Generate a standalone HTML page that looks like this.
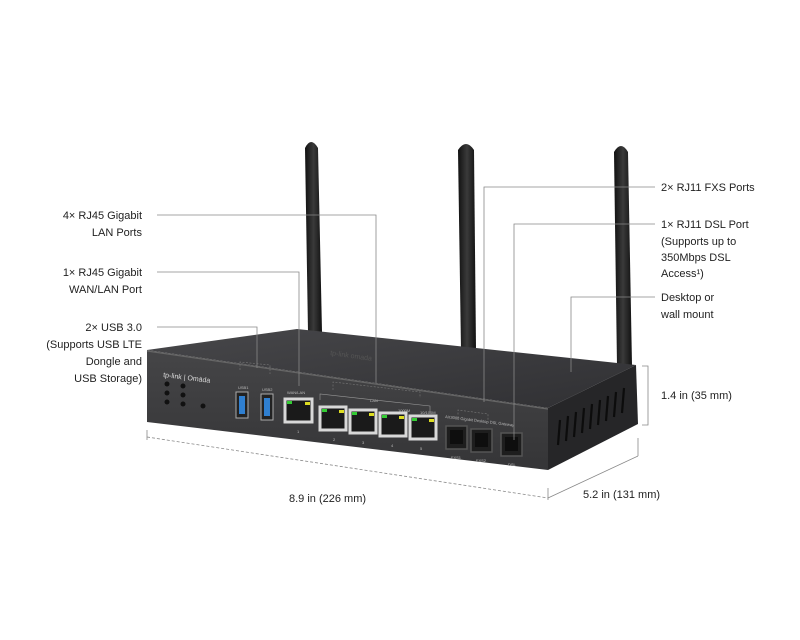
<!DOCTYPE html>
<html><head><meta charset="utf-8"><style>
html,body{margin:0;padding:0;background:#fff}
svg{display:block}
text{font-family:"Liberation Sans",sans-serif;font-size:11px;fill:#222}
.s{font-size:4px;fill:#bbb}
</style></head><body>
<svg width="800" height="640" viewBox="0 0 800 640">
<defs>
<linearGradient id="top" x1="0" y1="0" x2="1" y2="1"><stop offset="0" stop-color="#47474a"/><stop offset="1" stop-color="#303033"/></linearGradient>
<linearGradient id="front" x1="0" y1="0" x2="0" y2="1"><stop offset="0" stop-color="#454547"/><stop offset="1" stop-color="#353537"/></linearGradient>
<linearGradient id="ant" x1="0" y1="0" x2="1" y2="0"><stop offset="0" stop-color="#111"/><stop offset="0.5" stop-color="#3a3a3a"/><stop offset="1" stop-color="#111"/></linearGradient>
</defs>
<!-- antennas -->
<path d="M305 148 Q311 136 318 148 L322 332 L308 332 Z" fill="url(#ant)"/>
<path d="M458 150 Q466 138 474 150 L476 350 L461 350 Z" fill="url(#ant)"/>
<path d="M614 152 Q621 140 628 152 L632 366 L617 366 Z" fill="url(#ant)"/>
<!-- body -->
<polygon points="147,350 297,329 636,365 548,408" fill="url(#top)"/>
<polygon points="147,350 548,408 548,470 147,422" fill="url(#front)"/>
<line x1="147" y1="351" x2="548" y2="409" stroke="#666" stroke-width="1.2"/>
<polygon points="548,408 636,365 638,424 548,470" fill="#262628"/>
<g stroke="#0c0c0c" stroke-width="2.2">
<line x1="560" y1="420" x2="558" y2="445"/><line x1="568" y1="416" x2="566" y2="441"/><line x1="576" y1="412" x2="574" y2="437"/><line x1="584" y1="408" x2="582" y2="433"/><line x1="592" y1="404" x2="590" y2="429"/><line x1="600" y1="400" x2="598" y2="425"/><line x1="608" y1="396" x2="606" y2="421"/><line x1="616" y1="392" x2="614" y2="417"/><line x1="624" y1="388" x2="622" y2="413"/>
</g>
<text x="330" y="355" style="font-size:7px;fill:#555" transform="rotate(8 330 355)">tp-link omada</text>
<text x="163" y="377" style="font-size:7px;fill:#ddd" transform="rotate(7 163 377)">tp-link | Omāda</text>
<g fill="#111"><circle cx="167" cy="384" r="2.5"/><circle cx="167" cy="393" r="2.5"/><circle cx="167" cy="402" r="2.5"/><circle cx="183" cy="386" r="2.5"/><circle cx="183" cy="395" r="2.5"/><circle cx="183" cy="404" r="2.5"/><circle cx="203" cy="406" r="2.5"/></g>
<!-- USB -->
<rect x="236" y="392" width="12" height="26" fill="#222" stroke="#aaa"/><rect x="239" y="396" width="6" height="18" fill="#2f7fd0"/>
<rect x="261" y="394" width="12" height="26" fill="#222" stroke="#aaa"/><rect x="264" y="398" width="6" height="18" fill="#2f7fd0"/>
<text x="238" y="389" class="s">USB1</text><text x="262" y="391" class="s">USB2</text>
<text x="287" y="394" class="s">WAN/LAN</text><text x="370" y="402" class="s">LAN</text>
<text x="398" y="412" class="s">1000M</text><text x="420" y="414" class="s">10/100M</text>
<!-- RJ45 -->
<g fill="#1a1a1a" stroke="#d8d8d8" stroke-width="3">
<rect x="285" y="399" width="27" height="23"/><rect x="320" y="407" width="26" height="23"/><rect x="350" y="410" width="26" height="23"/><rect x="380" y="413" width="26" height="23"/><rect x="410" y="416" width="26" height="23"/>
</g>
<g fill="#3c3"><rect x="287" y="401" width="5" height="3"/><rect x="322" y="409" width="5" height="3"/><rect x="352" y="412" width="5" height="3"/><rect x="382" y="415" width="5" height="3"/><rect x="412" y="418" width="5" height="3"/></g>
<g fill="#dd2"><rect x="305" y="402" width="5" height="3"/><rect x="339" y="410" width="5" height="3"/><rect x="369" y="413" width="5" height="3"/><rect x="399" y="416" width="5" height="3"/><rect x="429" y="419" width="5" height="3"/></g>
<g class="s"><text x="297" y="433" class="s">1</text><text x="333" y="441" class="s">2</text><text x="362" y="444" class="s">3</text><text x="391" y="447" class="s">4</text><text x="420" y="450" class="s">5</text></g>
<g fill="#1e1e1e" stroke="#555" stroke-width="1.5">
<rect x="446" y="426" width="21" height="23"/><rect x="471" y="429" width="21" height="23"/><rect x="501" y="433" width="21" height="23"/>
</g>
<g fill="#0e0e0e"><rect x="450" y="430" width="13" height="14"/><rect x="475" y="433" width="13" height="14"/><rect x="505" y="437" width="13" height="14"/></g>
<text x="451" y="459" class="s">FXS1</text><text x="476" y="462" class="s">FXS2</text><text x="508" y="466" class="s">DSL</text>
<text x="445" y="418" class="s" transform="rotate(7 445 418)">AX3000 Gigabit Desktop DSL Gateway</text>
<!-- leaders -->
<g stroke="#888" stroke-width="0.8" fill="none">
<polyline points="157,215 376,215 376,383"/>
<polyline points="157,272 299,272 299,386"/>
<polyline points="157,327 257,327 257,368"/>
<polyline points="655,187 484,187 484,402"/>
<polyline points="655,224 514,224 514,440"/>
<polyline points="655,297 571,297 571,372"/>
<polyline points="642,366 648,366 648,425 642,425"/>
<line x1="147" y1="430" x2="147" y2="440"/>
<line x1="548" y1="488" x2="548" y2="500"/>
<line x1="638" y1="438" x2="638" y2="456"/>
<line x1="548" y1="498" x2="638" y2="456"/>
<line x1="147" y1="437" x2="548" y2="498" stroke-dasharray="3,2"/>
</g>
<g stroke="#999" stroke-width="0.6" fill="none">
<polyline points="320,400 320,394 430,406 430,413"/>
</g>
<g stroke="#777" stroke-width="0.6" fill="none" stroke-dasharray="2,1.5">
<polyline points="333,390 333,382 420,392 420,398"/>
<polyline points="240,370 240,362 270,365 270,374"/>
<polyline points="458,418 458,410 488,414 488,422"/>
</g>
<!-- labels -->
<g text-anchor="end">
<text x="142" y="219">4× RJ45 Gigabit</text>
<text x="142" y="236">LAN Ports</text>
<text x="142" y="276">1× RJ45 Gigabit</text>
<text x="142" y="293">WAN/LAN Port</text>
<text x="142" y="331">2× USB 3.0</text>
<text x="142" y="348">(Supports USB LTE</text>
<text x="142" y="365">Dongle and</text>
<text x="142" y="382">USB Storage)</text>
</g>
<text x="661" y="191">2× RJ11 FXS Ports</text>
<text x="661" y="228">1× RJ11 DSL Port</text>
<text x="661" y="245">(Supports up to</text>
<text x="661" y="261">350Mbps DSL</text>
<text x="661" y="277">Access¹)</text>
<text x="661" y="301">Desktop or</text>
<text x="661" y="318">wall mount</text>
<text x="661" y="399">1.4 in (35 mm)</text>
<text x="289" y="502">8.9 in (226 mm)</text>
<text x="583" y="498">5.2 in (131 mm)</text>
</svg>
</body></html>
